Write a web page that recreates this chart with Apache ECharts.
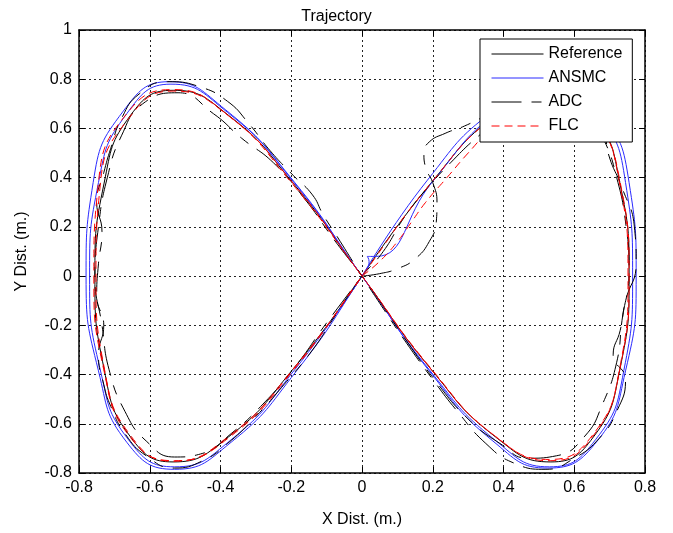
<!DOCTYPE html>
<html>
<head>
<meta charset="utf-8">
<script src="https://cdn.jsdelivr.net/npm/echarts@6/dist/echarts.min.js"></script>
<style>
  html, body { margin: 0; padding: 0; background: #fff; }
  #chart { width: 673px; height: 533px; }
</style>
</head>
<body>
<div id="chart"></div>
<script>
// series names
var seriesNames = ['Reference', 'ANSMC', 'ADC', 'FLC'];

// axis ticks
var xTicks = { min: -0.8, max: 0.8, step: 0.2 };
var yTicks = { min: -0.8, max: 1, step: 0.2 };

// reference figure-eight
var refPath = [
  [0, 0], [0.195, 0.378], [0.378, 0.654], [0.534, 0.755], [0.654, 0.654], [0.729, 0.378],
  [0.755, 0], [0.729, -0.378], [0.654, -0.654], [0.534, -0.755], [0.378, -0.654], [0.195, -0.378],
  [0, 0], [-0.195, 0.378], [-0.378, 0.654], [-0.534, 0.755], [-0.654, 0.654], [-0.729, 0.378],
  [-0.755, 0], [-0.729, -0.378], [-0.654, -0.654], [-0.534, -0.755], [-0.378, -0.654], [-0.195, -0.378],
  [0, 0]
];

// ANSMC, two laps (outer one first)
var ansmcPath = [
  [0, 0], [0.185, 0.39], [0.37, 0.67], [0.535, 0.775], [0.67, 0.67], [0.755, 0.38],
  [0.775, 0], [0.745, -0.385], [0.665, -0.67], [0.525, -0.78], [0.37, -0.67], [0.19, -0.385],
  [0, 0], [-0.195, 0.385], [-0.385, 0.675], [-0.545, 0.79], [-0.675, 0.67], [-0.76, 0.38],
  [-0.78, 0], [-0.745, -0.385], [-0.665, -0.675], [-0.53, -0.785], [-0.37, -0.675], [-0.185, -0.385],
  [0, 0], [0.02, 0.06], [0.015, 0.08], [0.04, 0.08],
  [0.2, 0.385], [0.38, 0.665], [0.535, 0.765], [0.665, 0.66], [0.745, 0.38],
  [0.765, 0], [0.74, -0.385], [0.66, -0.665], [0.53, -0.775], [0.375, -0.665], [0.19, -0.38],
  [0, 0], [-0.19, 0.38], [-0.38, 0.665], [-0.54, 0.78], [-0.665, 0.66], [-0.745, 0.38],
  [-0.77, 0], [-0.74, -0.38], [-0.66, -0.665], [-0.53, -0.775], [-0.37, -0.665], [-0.19, -0.38],
  [0, 0]
];

// ADC, starts with a wide swing on the upper right branch
var adcPath = [
  [0, 0], [0.05, 0.01], [0.1, 0.03], [0.15, 0.07], [0.19, 0.14], [0.21, 0.22], [0.212, 0.3],
  [0.2, 0.38], [0.18, 0.44], [0.175, 0.5], [0.19, 0.545], [0.235, 0.58], [0.29, 0.61], [0.36, 0.66],
  [0.45, 0.73], [0.54, 0.78], [0.63, 0.72], [0.68, 0.6], [0.7, 0.48], [0.735, 0.36], [0.77, 0.2],
  [0.775, 0.05], [0.745, -0.1], [0.73, -0.22], [0.71, -0.32], [0.745, -0.42], [0.72, -0.55],
  [0.67, -0.66], [0.6, -0.74], [0.52, -0.785], [0.43, -0.76], [0.35, -0.68], [0.27, -0.55],
  [0.2, -0.42], [0.12, -0.26], [0.05, -0.11], [0, 0],
  [-0.07, 0.16], [-0.11, 0.25], [-0.14, 0.33], [-0.195, 0.41], [-0.26, 0.51], [-0.32, 0.62],
  [-0.38, 0.71], [-0.46, 0.77], [-0.55, 0.79], [-0.63, 0.74], [-0.68, 0.64], [-0.71, 0.52],
  [-0.73, 0.42], [-0.75, 0.3], [-0.735, 0.18], [-0.745, 0.05], [-0.75, -0.08], [-0.73, -0.2],
  [-0.745, -0.32], [-0.73, -0.44], [-0.71, -0.53], [-0.67, -0.64], [-0.61, -0.73], [-0.53, -0.78],
  [-0.45, -0.75], [-0.38, -0.68], [-0.3, -0.57], [-0.22, -0.44], [-0.14, -0.3], [-0.08, -0.17],
  [-0.03, -0.06], [0, 0],
  [0.06, 0.1], [0.12, 0.24], [0.18, 0.35], [0.25, 0.46], [0.33, 0.57], [0.42, 0.67], [0.53, 0.74],
  [0.63, 0.68], [0.685, 0.55], [0.72, 0.4], [0.745, 0.22], [0.755, 0.02], [0.735, -0.18],
  [0.72, -0.35], [0.68, -0.52], [0.63, -0.65], [0.55, -0.73], [0.47, -0.74], [0.39, -0.68],
  [0.3, -0.58], [0.21, -0.43], [0.11, -0.23], [0.04, -0.08], [0, 0],
  [-0.08, 0.15], [-0.16, 0.31], [-0.25, 0.46], [-0.34, 0.56], [-0.42, 0.66], [-0.52, 0.745],
  [-0.62, 0.7], [-0.68, 0.57], [-0.72, 0.4], [-0.745, 0.2], [-0.755, 0], [-0.735, -0.2],
  [-0.715, -0.38], [-0.67, -0.55], [-0.61, -0.67], [-0.53, -0.735], [-0.45, -0.72], [-0.37, -0.64],
  [-0.28, -0.52], [-0.19, -0.37], [-0.1, -0.19], [0, 0]
];

// FLC, first lap a bit off on the upper right branch
var flcPath = [
  [0, 0], [0.05, 0.06], [0.1, 0.14], [0.14, 0.22], [0.18, 0.3], [0.24, 0.4], [0.3, 0.5],
  [0.36, 0.59], [0.45, 0.69], [0.53, 0.74], [0.65, 0.65], [0.73, 0.38],
  [0.755, 0], [0.73, -0.37], [0.655, -0.64], [0.53, -0.745], [0.38, -0.655], [0.195, -0.375],
  [0, 0], [-0.2, 0.38], [-0.38, 0.655], [-0.535, 0.758], [-0.665, 0.66], [-0.745, 0.38],
  [-0.758, 0], [-0.73, -0.38], [-0.655, -0.655], [-0.53, -0.75], [-0.375, -0.655], [-0.19, -0.375],
  [0, 0], [0.195, 0.378], [0.378, 0.652], [0.534, 0.752], [0.652, 0.652], [0.728, 0.378],
  [0.752, 0], [0.728, -0.378], [0.652, -0.652], [0.534, -0.75], [0.378, -0.652], [0.195, -0.378],
  [0, 0], [-0.195, 0.378], [-0.378, 0.652], [-0.534, 0.752], [-0.66, 0.64], [-0.74, 0.37],
  [-0.752, 0], [-0.728, -0.378], [-0.652, -0.652], [-0.534, -0.752], [-0.378, -0.652], [-0.195, -0.378],
  [0, 0]
];

var font = "'Liberation Sans', Arial, Helvetica, sans-serif";

var chart = echarts.init(document.getElementById('chart'));

function lineSeries(name, data, color, dash) {
  return {
    name: name,
    type: 'line',
    data: data,
    smooth: true,
    symbol: 'none',
    clip: true,
    lineStyle: { color: color, width: 1, type: dash },
    itemStyle: { color: color }
  };
}

var option = {
  animation: false,
  backgroundColor: '#fff',
  title: {
    text: 'Trajectory',
    left: 'center',
    top: 4,
    textStyle: { fontFamily: font, fontSize: 16, fontWeight: 'normal', color: '#000' }
  },
  grid: { left: 79, right: 28, top: 30, bottom: 57 },
  legend: {
    data: seriesNames,
    orient: 'vertical',
    left: 480,
    top: 39,
    itemWidth: 52,
    itemHeight: 14,
    itemGap: 8,
    padding: [7, 10, 8, 11],
    borderColor: '#000',
    borderWidth: 1,
    backgroundColor: '#fff',
    // hide the marker dot, keep only the line sample
    itemStyle: { opacity: 0 },
    lineStyle: { width: 1 },
    textStyle: { fontFamily: font, fontSize: 16, color: '#000', lineHeight: 16 }
  },
  xAxis: [{
    type: 'value',
    min: xTicks.min, max: xTicks.max, interval: xTicks.step,
    name: 'X Dist. (m.)',
    nameLocation: 'middle',
    nameGap: 39,
    nameTextStyle: { fontFamily: font, fontSize: 16, color: '#000' },
    axisLine: { onZero: false, lineStyle: { color: '#000', width: 1.5 } },
    axisTick: { inside: true, length: 6, lineStyle: { color: '#000' } },
    axisLabel: { fontFamily: font, fontSize: 16, color: '#000', margin: 7 },
    splitLine: { show: true, lineStyle: { color: '#222', width: 1, type: [2, 3] } }
  }, {
    type: 'value',
    position: 'top',
    min: xTicks.min, max: xTicks.max, interval: xTicks.step,
    axisLine: { onZero: false, lineStyle: { color: '#000', width: 1.5 } },
    axisTick: { inside: true, length: 6, lineStyle: { color: '#000' } },
    axisLabel: { show: false },
    splitLine: { show: false }
  }],
  yAxis: [{
    type: 'value',
    min: yTicks.min, max: yTicks.max, interval: yTicks.step,
    name: 'Y Dist. (m.)',
    nameLocation: 'middle',
    nameGap: 49,
    nameRotate: 90,
    nameTextStyle: { fontFamily: font, fontSize: 16, color: '#000' },
    axisLine: { onZero: false, lineStyle: { color: '#000', width: 1.5 } },
    axisTick: { inside: true, length: 6, lineStyle: { color: '#000' } },
    axisLabel: { fontFamily: font, fontSize: 16, color: '#000', margin: 7 },
    splitLine: { show: true, lineStyle: { color: '#222', width: 1, type: [2, 3] } }
  }, {
    type: 'value',
    position: 'right',
    min: yTicks.min, max: yTicks.max, interval: yTicks.step,
    axisLine: { onZero: false, lineStyle: { color: '#000', width: 1.5 } },
    axisTick: { inside: true, length: 6, lineStyle: { color: '#000' } },
    axisLabel: { show: false },
    splitLine: { show: false }
  }],
  series: [
    lineSeries(seriesNames[0], refPath, '#000000', 'solid'),
    lineSeries(seriesNames[1], ansmcPath, '#2b2bff', 'solid'),
    lineSeries(seriesNames[2], adcPath, '#000000', [30, 10, 10, 10]),
    lineSeries(seriesNames[3], flcPath, '#ff0000', [8, 5])
  ]
};

chart.setOption(option);
</script>
</body>
</html>
